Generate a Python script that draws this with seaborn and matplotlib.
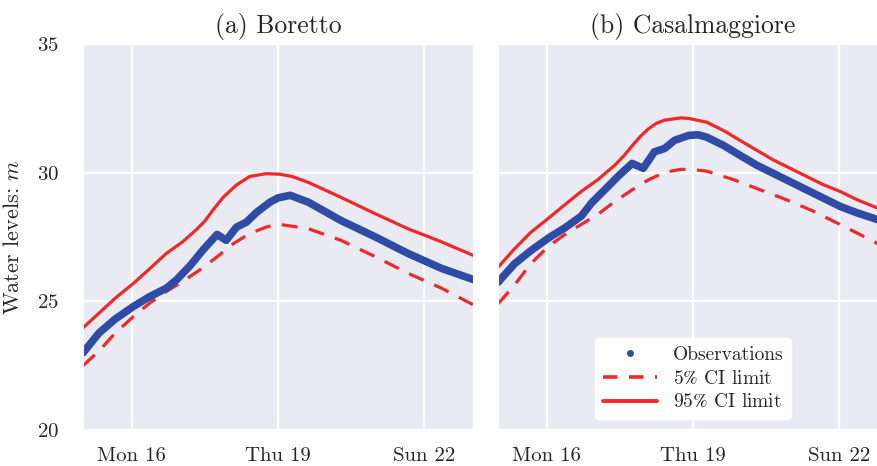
import pandas as pd
import numpy as np
import seaborn as sns
import matplotlib.pyplot as plt
import matplotlib.dates as mdates
from matplotlib.lines import Line2D

# --- data (hours after Sun 15 Nov 00:00) ---
start = pd.Timestamp("2015-11-15 00:00")

bor_obs_h = [0, 8, 16, 25, 33, 41, 46, 53, 59, 66, 70.5, 75.5, 80.5, 85.5, 92, 96,
             102, 111, 127, 144, 160, 176.5, 192]
bor_obs = [23.0, 23.78, 24.32, 24.81, 25.19, 25.51, 25.83, 26.41, 26.99, 27.6, 27.37,
           27.88, 28.08, 28.46, 28.85, 29.02, 29.12, 28.85, 28.14, 27.5, 26.86, 26.28, 25.85]

bor_hi_h = [0, 8, 16, 25, 33, 41, 49, 56, 60, 64, 69, 75.5, 82, 90, 97, 103, 111, 127,
            144, 160, 176.5, 192]
bor_hi = [23.97, 24.55, 25.13, 25.71, 26.28, 26.86, 27.31, 27.8, 28.12, 28.55, 29.04,
          29.52, 29.85, 29.96, 29.94, 29.85, 29.62, 29.04, 28.4, 27.82, 27.31, 26.79]

bor_lo_h = [0, 8, 16, 25, 33, 41, 49, 57.5, 66, 74, 82, 90, 96, 111, 127, 144, 160,
            176.5, 192]
bor_lo = [22.5, 23.08, 23.78, 24.42, 24.94, 25.38, 25.77, 26.22, 26.73, 27.24, 27.63,
          27.88, 28.0, 27.82, 27.37, 26.73, 26.09, 25.51, 24.87]

cas_obs_h = [0, 8, 16, 25, 33, 41, 46, 52.5, 59, 66, 71.5, 77, 82, 87, 94, 98.6, 102.7,
             111, 119, 127.4, 135.6, 143.8, 152, 160.2, 168.4, 176.7, 186.7, 192]
cas_obs = [25.74, 26.45, 26.96, 27.47, 27.86, 28.31, 28.82, 29.33, 29.85, 30.36, 30.17,
           30.81, 30.94, 31.26, 31.45, 31.47, 31.38, 31.06, 30.68, 30.29, 29.97, 29.65,
           29.33, 29.01, 28.69, 28.44, 28.18, 28.02]

cas_hi_h = [0, 8, 16, 25, 33, 41, 49, 57.5, 62, 66, 70, 74, 78, 82, 90, 94.5, 102.7,
            111, 119, 127.4, 135.6, 143.8, 152, 160.2, 168.4, 176.7, 186.7, 192]
cas_hi = [26.32, 27.03, 27.67, 28.24, 28.76, 29.27, 29.72, 30.29, 30.66, 31.04, 31.4,
          31.7, 31.92, 32.04, 32.13, 32.1, 31.96, 31.64, 31.26, 30.87, 30.49, 30.17,
          29.85, 29.53, 29.27, 28.95, 28.63, 28.45]

cas_lo_h = [0, 8, 16, 25, 33, 41, 49, 57.5, 66, 74, 82, 90, 96, 102.7, 115.9, 128.2,
            141.3, 154.5, 166.8, 178.6, 186.7, 192]
cas_lo = [24.9, 25.62, 26.45, 27.15, 27.6, 27.99, 28.37, 28.88, 29.33, 29.72, 30.01,
          30.13, 30.12, 30.06, 29.73, 29.36, 28.97, 28.53, 28.05, 27.58, 27.25, 27.05]

titles = ["(a) Boretto", "(b) Casalmaggiore"]
legend_labels = ["Observations", "5% CI limit", "95% CI limit"]

blue = "#2E4BA6"
red = "#F02828"


def to_time(hours):
    return start + pd.to_timedelta(hours, unit="h")


sns.set_style("darkgrid")
plt.rcParams["font.family"] = "serif"
plt.rcParams["font.serif"] = ["cmr10", "DejaVu Serif"]
plt.rcParams["mathtext.fontset"] = "cm"
plt.rcParams["axes.formatter.use_mathtext"] = True
plt.rcParams["grid.linewidth"] = 1.6

fig = plt.figure(figsize=(8.77, 4.66), dpi=100)
ax1 = fig.add_axes([83 / 877, 36 / 466, 390 / 877, 386 / 466])
ax2 = fig.add_axes([498 / 877, 36 / 466, 390 / 877, 386 / 466], sharey=ax1)

panels = [
    (ax1, bor_obs_h, bor_obs, bor_lo_h, bor_lo, bor_hi_h, bor_hi),
    (ax2, cas_obs_h, cas_obs, cas_lo_h, cas_lo, cas_hi_h, cas_hi),
]

for i, (ax, oh, ov, lh, lv, hh, hv) in enumerate(panels):
    sns.lineplot(x=to_time(hh), y=hv, ax=ax, color=red, lw=2.3)
    sns.lineplot(x=to_time(lh), y=lv, ax=ax, color=red, lw=2.3, dashes=False)
    ax.lines[-1].set_dashes((5, 3.6))
    sns.lineplot(x=to_time(oh), y=ov, ax=ax, color=blue, lw=5.5)
    sns.scatterplot(x=to_time(oh), y=ov, ax=ax, color=blue, s=20, edgecolor="none")
    for ln in ax.lines:
        ln.set_solid_joinstyle("round")

    ax.set_xlim(start, start + pd.Timedelta(hours=192))
    ax.set_ylim(20, 35)
    ax.set_yticks([20, 25, 30, 35])
    ax.xaxis.set_major_locator(mdates.DayLocator(bymonthday=[16, 19, 22]))
    ax.xaxis.set_major_formatter(mdates.DateFormatter("%a %d"))
    ax.tick_params(axis="x", labelsize=15, pad=9)
    ax.tick_params(axis="y", labelsize=15, pad=14)
    ax.set_title(titles[i], fontsize=18.5, pad=8)
    ax.set_xlabel("")

ax1.set_ylabel("Water levels: $m$", fontsize=16, labelpad=10)
ax2.tick_params(axis="y", labelleft=False)

handles = [
    Line2D([], [], ls="", marker="o", ms=5, color=blue, mec="none"),
    Line2D([], [], color=red, lw=2.6, dashes=(4, 3.2)),
    Line2D([], [], color=red, lw=2.8),
]
# the cmr10 percent glyph has a bad bounding box, so take "%" from STIX
shown = [s.replace("%", r"$\%$") for s in legend_labels]
leg = ax2.legend(handles, shown, loc="lower center",
                 bbox_to_anchor=(0.5, 0.028), borderaxespad=0, fontsize=14,
                 frameon=True, facecolor="white", edgecolor="white", framealpha=1,
                 handlelength=2.8, labelspacing=0.3, borderpad=0.4)
for t in leg.get_texts():
    t.set_math_fontfamily("stix")

fig.savefig("out.png", dpi=100)
